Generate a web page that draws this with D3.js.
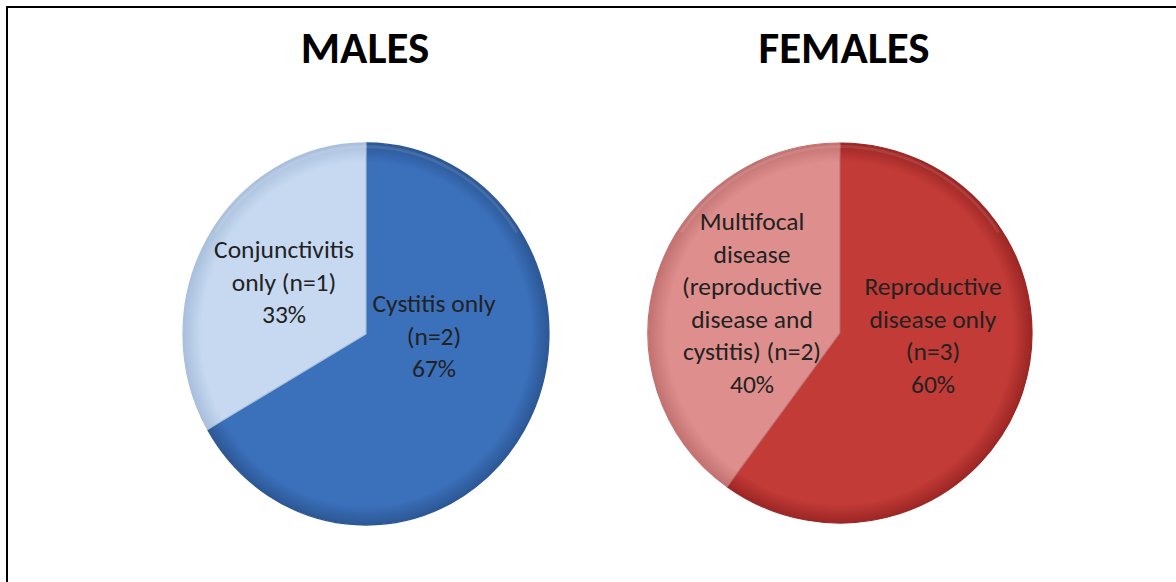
<!DOCTYPE html>
<html>
<head>
<meta charset="utf-8">
<script src="https://cdn.jsdelivr.net/npm/d3@7"></script>
<style>
  html, body { margin: 0; padding: 0; background: #fff; }
  svg { display: block; }
  text { font-family: Carlito, Lato, "Open Sans", sans-serif; }
</style>
</head>
<body>
<svg id="chart" width="1176" height="582"></svg>
<script>
// ---- data ----
const titles = ["MALES", "FEMALES"];
const maleCategories = ["Cystitis only", "Conjunctivitis only"];
const maleValues = [2, 1];
const maleLabels = [["Cystitis only", "(n=2)", "67%"], ["Conjunctivitis", "only (n=1)", "33%"]];
const femaleCategories = ["Reproductive disease only", "Multifocal disease"];
const femaleValues = [3, 2];
const femaleLabels = [["Reproductive", "disease only", "(n=3)", "60%"],
                      ["Multifocal", "disease", "(reproductive", "disease and", "cystitis) (n=2)", "40%"]];

const svg = d3.select("#chart");

// frame (left and top edges visible)
svg.append("rect").attr("x", 7).attr("y", 7).attr("width", 1200).attr("height", 600)
  .attr("fill", "none").attr("stroke", "#000").attr("stroke-width", 2);

const defs = svg.append("defs");
function grad(id, inner, outer) {
  const g = defs.append("radialGradient").attr("id", id)
    .attr("gradientUnits", "userSpaceOnUse").attr("cx", 0).attr("cy", 0).attr("r", 1).attr("fx", 0).attr("fy", 0);
  g.append("stop").attr("offset", "0%").attr("stop-color", inner);
  g.append("stop").attr("offset", "90%").attr("stop-color", inner);
  g.append("stop").attr("offset", "100%").attr("stop-color", outer);
  return g;
}

const pies = [
  { title: titles[0], values: maleValues, cats: maleCategories, labels: maleLabels,
    cx: 366, cy: 334, rx: 183, ry: 191,
    colors: [["#3b70bb", "#2c5795"], ["#c6d9f1", "#a9bfdc"]],
    labelPos: [[434, 312], [284, 258]], titleX: 365 },
  { title: titles[1], values: femaleValues, cats: femaleCategories, labels: femaleLabels,
    cx: 840, cy: 333, rx: 192, ry: 190,
    colors: [["#c33b37", "#9b2624"], ["#de8f8d", "#c27170"]],
    labelPos: [[933, 295], [752, 230]], titleX: 844 }
];

pies.forEach((p, pi) => {
  svg.append("text").attr("x", p.titleX).attr("y", 63).attr("text-anchor", "middle")
    .attr("font-size", 45).attr("font-weight", "bold").attr("fill", "#000").text(p.title);

  const pie = d3.pie().sort(null).value(d => d)(p.values);
  const arc = d3.arc().innerRadius(0).outerRadius(p.rx);
  const g = svg.append("g").attr("transform", `translate(${p.cx},${p.cy}) scale(1,${p.ry / p.rx})`);

  p.colors.forEach((c, i) => {
    const gr = grad(`g${pi}${i}`, c[0], c[1]);
    gr.attr("r", p.rx);
  });

  g.selectAll("path.slice").data(pie).join("path")
    .attr("class", "slice")
    .attr("d", arc)
    .attr("fill", (d, i) => `url(#g${pi}${i})`)
    .attr("stroke", (d, i) => p.colors[i][1])
    .attr("stroke-width", 1.2)
    .attr("stroke-linejoin", "round");

  // subtle highlight along the top rim
  g.append("path")
    .attr("d", d3.arc().innerRadius(p.rx - 5).outerRadius(p.rx - 2).startAngle(-1.0).endAngle(1.0)())
    .attr("fill", "#fff").attr("opacity", 0.1);

  // labels
  p.labels.forEach((lines, i) => {
    const [lx, ly] = p.labelPos[i];
    const t = svg.append("text").attr("text-anchor", "middle").attr("font-size", 25.5).attr("fill", "#222");
    lines.forEach((ln, k) => {
      t.append("tspan").attr("x", lx).attr("y", ly + k * 32.5).text(ln);
    });
  });
});
</script>
</body>
</html>
